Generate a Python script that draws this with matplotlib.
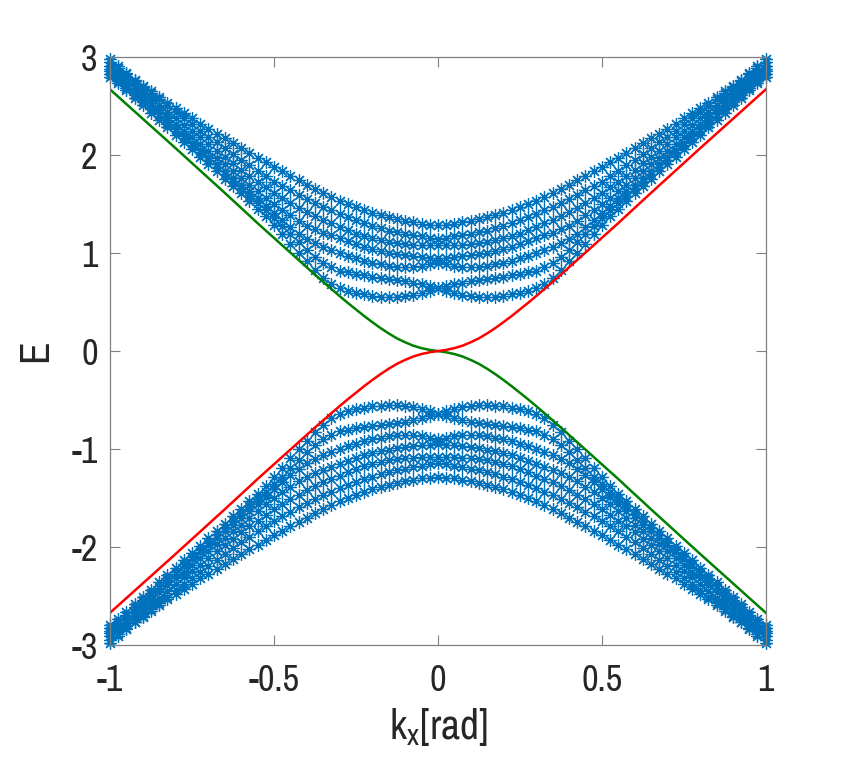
import matplotlib
matplotlib.use("Agg")
import matplotlib.pyplot as plt
import numpy as np

# kx samples for kx >= 0 (the spectrum is symmetric in kx, mirrored below)
kx_half = [0.000, 0.025, 0.050, 0.075, 0.100, 0.125, 0.150, 0.175, 0.200, 0.225,
           0.250, 0.275, 0.300, 0.325, 0.350, 0.375, 0.400, 0.425, 0.450, 0.475,
           0.500, 0.525, 0.550, 0.575, 0.600, 0.625, 0.650, 0.675, 0.700, 0.725,
           0.750, 0.775, 0.800, 0.825, 0.850, 0.875, 0.900, 0.925, 0.950, 0.975, 1.000]

# upper bulk bands (E > 0, kx >= 0)
band1 = [0.640, 0.615, 0.592, 0.572, 0.558, 0.552, 0.551, 0.556, 0.565, 0.578,
         0.594, 0.614, 0.640, 0.685, 0.750, 0.830, 0.915, 1.000, 1.095, 1.195,
         1.290, 1.375, 1.455, 1.535, 1.610, 1.685, 1.760, 1.835, 1.910, 1.985,
         2.060, 2.135, 2.210, 2.285, 2.360, 2.435, 2.510, 2.585, 2.660, 2.735, 2.800]
band2 = [0.640, 0.660, 0.680, 0.700, 0.720, 0.730, 0.740, 0.750, 0.760, 0.775,
         0.790, 0.805, 0.820, 0.855, 0.900, 0.960, 1.030, 1.110, 1.195, 1.280,
         1.360, 1.435, 1.510, 1.585, 1.660, 1.735, 1.810, 1.880, 1.955, 2.030,
         2.100, 2.175, 2.250, 2.320, 2.395, 2.470, 2.540, 2.615, 2.690, 2.760, 2.830]
band3 = [0.900, 0.885, 0.870, 0.858, 0.855, 0.860, 0.870, 0.885, 0.900, 0.920,
         0.945, 0.970, 1.000, 1.030, 1.065, 1.100, 1.140, 1.200, 1.265, 1.335,
         1.410, 1.485, 1.560, 1.630, 1.700, 1.770, 1.840, 1.910, 1.980, 2.050,
         2.125, 2.195, 2.270, 2.340, 2.415, 2.485, 2.560, 2.630, 2.705, 2.780, 2.855]
band4 = [0.950, 0.955, 0.960, 0.970, 0.980, 0.990, 1.005, 1.020, 1.040, 1.065,
         1.090, 1.120, 1.150, 1.180, 1.210, 1.245, 1.280, 1.330, 1.385, 1.440,
         1.500, 1.565, 1.635, 1.700, 1.770, 1.835, 1.905, 1.970, 2.040, 2.110,
         2.180, 2.250, 2.320, 2.390, 2.460, 2.530, 2.600, 2.670, 2.740, 2.810, 2.880]
band5 = [1.080, 1.080, 1.085, 1.087, 1.090, 1.100, 1.115, 1.130, 1.150, 1.175,
         1.200, 1.235, 1.270, 1.305, 1.340, 1.380, 1.420, 1.465, 1.510, 1.560,
         1.610, 1.670, 1.730, 1.790, 1.850, 1.915, 1.980, 2.045, 2.110, 2.180,
         2.245, 2.310, 2.380, 2.445, 2.515, 2.580, 2.650, 2.715, 2.780, 2.845, 2.910]
band6 = [1.140, 1.155, 1.170, 1.185, 1.200, 1.215, 1.230, 1.255, 1.280, 1.310,
         1.340, 1.370, 1.400, 1.435, 1.470, 1.510, 1.550, 1.595, 1.640, 1.685,
         1.730, 1.785, 1.840, 1.895, 1.950, 2.010, 2.070, 2.130, 2.190, 2.250,
         2.315, 2.375, 2.440, 2.505, 2.570, 2.635, 2.700, 2.760, 2.825, 2.885, 2.950]
band7 = [1.290, 1.292, 1.300, 1.315, 1.330, 1.350, 1.370, 1.390, 1.410, 1.440,
         1.470, 1.500, 1.530, 1.570, 1.610, 1.655, 1.700, 1.745, 1.790, 1.835,
         1.880, 1.925, 1.975, 2.020, 2.070, 2.120, 2.170, 2.220, 2.270, 2.320,
         2.375, 2.425, 2.480, 2.535, 2.590, 2.650, 2.710, 2.770, 2.835, 2.905, 2.980]

# edge state (red) on the same kx samples; green is its mirror
edge_red = [0.000, 0.012, 0.030, 0.055, 0.090, 0.130, 0.180, 0.235, 0.295, 0.358,
            0.425, 0.492, 0.562, 0.634, 0.707, 0.780, 0.855, 0.930, 1.005, 1.080,
            1.155, 1.230, 1.305, 1.383, 1.460, 1.537, 1.614, 1.690, 1.766, 1.842,
            1.918, 1.994, 2.070, 2.145, 2.220, 2.295, 2.370, 2.445, 2.520, 2.595, 2.670]

plt.rcParams['font.family'] = ['Archivo Narrow', 'Roboto Condensed', 'DejaVu Sans']
plt.rcParams['axes.unicode_minus'] = False

kh = np.array(kx_half)
kx = np.concatenate([-kh[::-1], kh[1:]])
bands = [band1, band2, band3, band4, band5, band6, band7]

fig = plt.figure(figsize=(8.47, 7.62), dpi=100)
ax = fig.add_axes([0.130, 0.1535, 0.774, 0.7715])

blue = '#0072BD'
ast = (8, 2, 0)
for b in bands:
    b = np.array(b)
    e = np.concatenate([b[::-1], b[1:]])
    for sgn in (1, -1):
        ax.plot(kx, sgn * e, linestyle='none', marker=ast, ms=9, mew=0.9,
                color=blue, clip_on=False)

er = np.array(edge_red)
red = np.concatenate([-er[::-1], er[1:]])
ax.plot(kx, -red, color='#008000', lw=1.8)
ax.plot(kx, red, color='#FF0000', lw=1.8)

ax.set_xlim(-1, 1)
ax.set_ylim(-3, 3)
ax.set_xticks([-1, -0.5, 0, 0.5, 1])
ax.set_xticklabels(['-1', '-0.5', '0', '0.5', '1'])
ax.set_yticks([-3, -2, -1, 0, 1, 2, 3])
ax.tick_params(direction='in', top=True, right=True, length=7, width=0.8,
               colors='#808080', labelcolor='#262626', labelsize=26)
ax.tick_params(axis='x', pad=14)
ax.tick_params(axis='y', pad=9)
for s in ax.spines.values():
    s.set_color('#808080')
    s.set_linewidth(0.9)
ax.set_xlabel(r'$\mathregular{k_x}$[rad]', fontsize=30, color='#262626', labelpad=6)
ax.set_ylabel('E', fontsize=30, color='#262626', labelpad=12)

fig.savefig('out.png', dpi=100)
